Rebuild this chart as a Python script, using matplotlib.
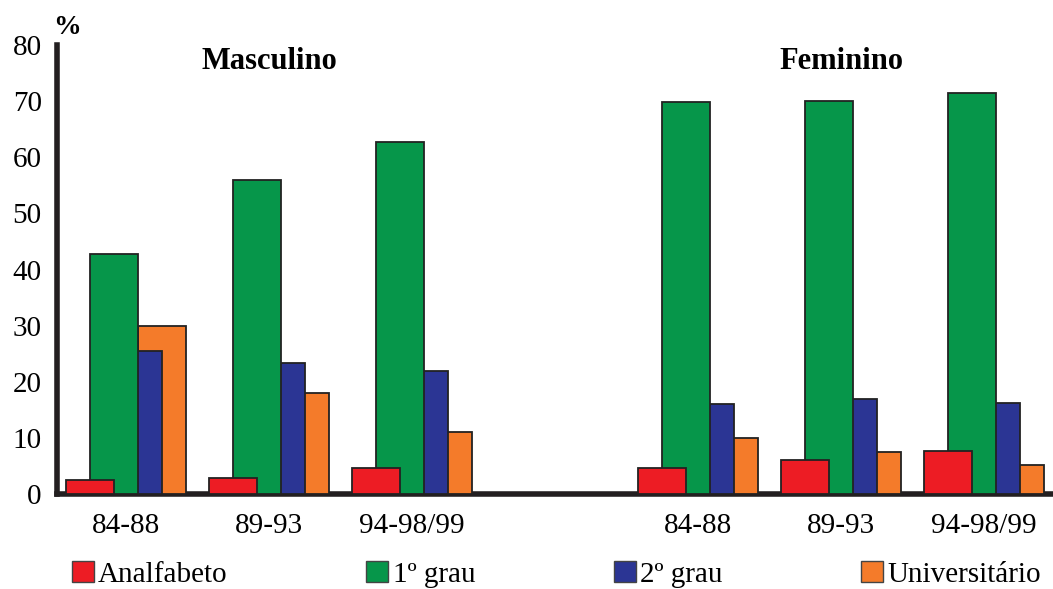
import matplotlib.pyplot as plt
from matplotlib.patches import Patch

plt.rcParams['font.family'] = 'Liberation Serif'

# Data
periodos = ['84-88', '89-93', '94-98/99', '84-88', '89-93', '94-98/99']
posicoes = [0, 1, 2, 4, 5, 6]
series = ['Analfabeto', '1º grau', '2º grau', 'Universitário']
analfabeto = [2.5, 2.9, 4.7, 4.7, 6.0, 7.7]
grau1 = [42.7, 56.0, 62.8, 69.9, 70.1, 71.5]
grau2 = [25.5, 23.4, 21.9, 16.0, 16.9, 16.2]
universitario = [30.0, 18.0, 11.0, 9.9, 7.4, 5.1]
valores = [analfabeto, grau1, grau2, universitario]
cores = ['#ED1C24', '#06964A', '#2B3594', '#F47B2A']

fig = plt.figure(figsize=(10.53, 5.89), dpi=100)
ax = fig.add_axes([57/1053, 95/589, 996/1053, 449/589])

width = 0.336
offsets = [-0.252, -0.084, 0.084, 0.252]
# red in front, orange at the back
for k in range(4):
    ax.bar([p + offsets[k] for p in posicoes], valores[k], width,
           color=cores[k], edgecolor='#222222', linewidth=1.3,
           zorder=10 - k)

ax.set_xlim(-0.4825, 6.4825)
ax.set_ylim(0, 80)
ax.set_yticks(range(0, 81, 10))
ax.set_xticks(posicoes)
ax.set_xticklabels(periodos)
ax.tick_params(length=0, labelsize=21)
ax.tick_params(axis='x', pad=14)
ax.tick_params(axis='y', pad=11)

for s in ['top', 'right']:
    ax.spines[s].set_visible(False)
ax.spines['left'].set_linewidth(4)
ax.spines['bottom'].set_linewidth(4)
ax.spines['left'].set_color('#231F20')
ax.spines['bottom'].set_color('#231F20')

ax.text(1, 77.0, 'Masculino', ha='center', va='center',
        fontsize=22, fontweight='bold')
ax.text(5, 77.0, 'Feminino', ha='center', va='center',
        fontsize=22, fontweight='bold')
fig.text(67/1053, 1 - 28/589, '%', ha='center', va='center',
         fontsize=20, fontweight='bold')

handles = [Patch(facecolor=c, edgecolor='#444444', linewidth=1) for c in cores]
fig.legend(handles, series, loc='lower left', ncol=4, mode='expand',
           bbox_to_anchor=(60/1053, -0.018, 993/1053, 0.05),
           frameon=False, borderaxespad=0, fontsize=21,
           handlelength=0.75, handleheight=0.75, handletextpad=0.15)

plt.savefig('out.png', dpi=100)
